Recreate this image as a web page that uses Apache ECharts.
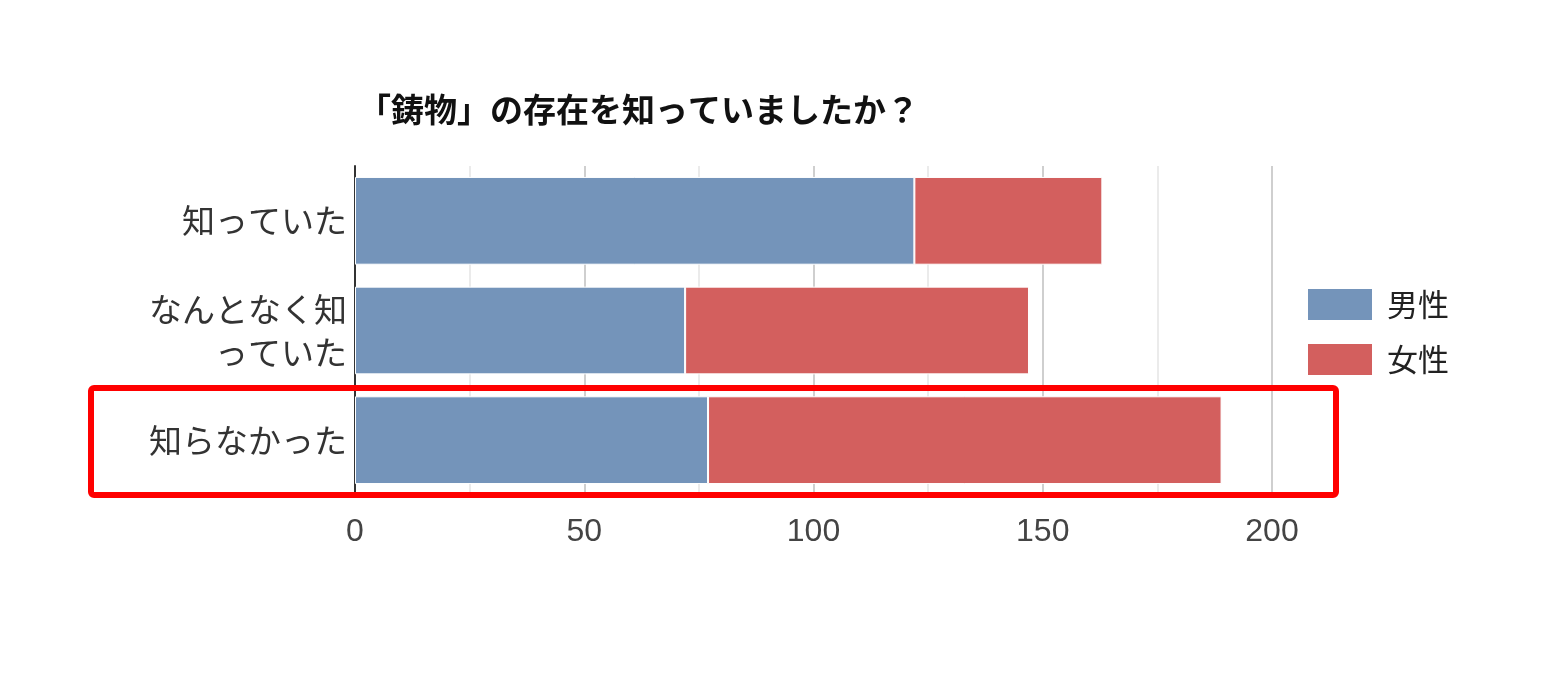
<!DOCTYPE html>
<html><head><meta charset="utf-8">
<script src="https://cdn.jsdelivr.net/npm/echarts@6/dist/echarts.min.js"></script>
<style>html,body{margin:0;padding:0;background:#fff}#c{width:1543px;height:685px}</style>
</head><body><div id="c"></div>
<script>
const title = "「鋳物」の存在を知っていましたか？";
const categories = ["知っていた", "なんとなく知っていた", "知らなかった"];
const seriesNames = ["男性", "女性"];
const male = [122, 72, 77];
const female = [41, 75, 112];
const xTicks = [0, 50, 100, 150, 200];

const font = '"Noto Sans CJK JP", "Noto Sans", sans-serif';
const chart = echarts.init(document.getElementById('c'), null, {renderer: 'canvas'});
chart.setOption({
  animation: false,
  backgroundColor: '#fff',
  title: {
    text: title, left: 353, top: 88,
    textStyle: {fontFamily: font, fontSize: 33, fontWeight: 'bold', color: '#111'}
  },
  legend: {
    orient: 'vertical', left: 1301, top: 282, itemWidth: 66, itemHeight: 33, itemGap: 20,
    icon: 'rect',
    textStyle: {fontFamily: font, fontSize: 31, color: '#222', padding: [0, 0, 0, 9]},
    data: seriesNames
  },
  grid: {left: 355, right: 271, top: 166, bottom: 190, containLabel: false},
  xAxis: {
    type: 'value', min: xTicks[0], max: xTicks[xTicks.length - 1], interval: 50,
    axisLine: {show: false}, axisTick: {show: false},
    axisLabel: {fontFamily: '"Liberation Sans", Arial, sans-serif', fontSize: 32, color: '#444', margin: 21},
    splitLine: {show: true, lineStyle: {color: '#cfcfcf', width: 2}},
    minorTick: {show: false, splitNumber: 2},
    minorSplitLine: {show: true, lineStyle: {color: '#ebebeb', width: 2}}
  },
  yAxis: {
    type: 'category', inverse: true, data: categories,
    axisLine: {show: true, lineStyle: {color: '#333', width: 2}},
    axisTick: {show: false},
    axisLabel: {
      fontFamily: font, fontSize: 33, color: '#333', margin: 8, lineHeight: 43, align: 'right',
      formatter: v => v.length > 6 ? v.slice(0, 6) + '\n' + v.slice(6) : v
    }
  },
  series: [
    {name: seriesNames[0], type: 'bar', stack: 's', data: male, barCategoryGap: '20%',
     itemStyle: {color: '#7494BA', borderColor: '#fff', borderWidth: 1}},
    {name: seriesNames[1], type: 'bar', stack: 's', data: female, barCategoryGap: '20%',
     itemStyle: {color: '#D35F5E', borderColor: '#fff', borderWidth: 1}}
  ],
  graphic: [{
    type: 'rect', shape: {x: 91, y: 388, width: 1245, height: 107, r: 3},
    style: {fill: 'none', stroke: '#ff0000', lineWidth: 6}, z: 100
  }]
});
</script></body></html>
